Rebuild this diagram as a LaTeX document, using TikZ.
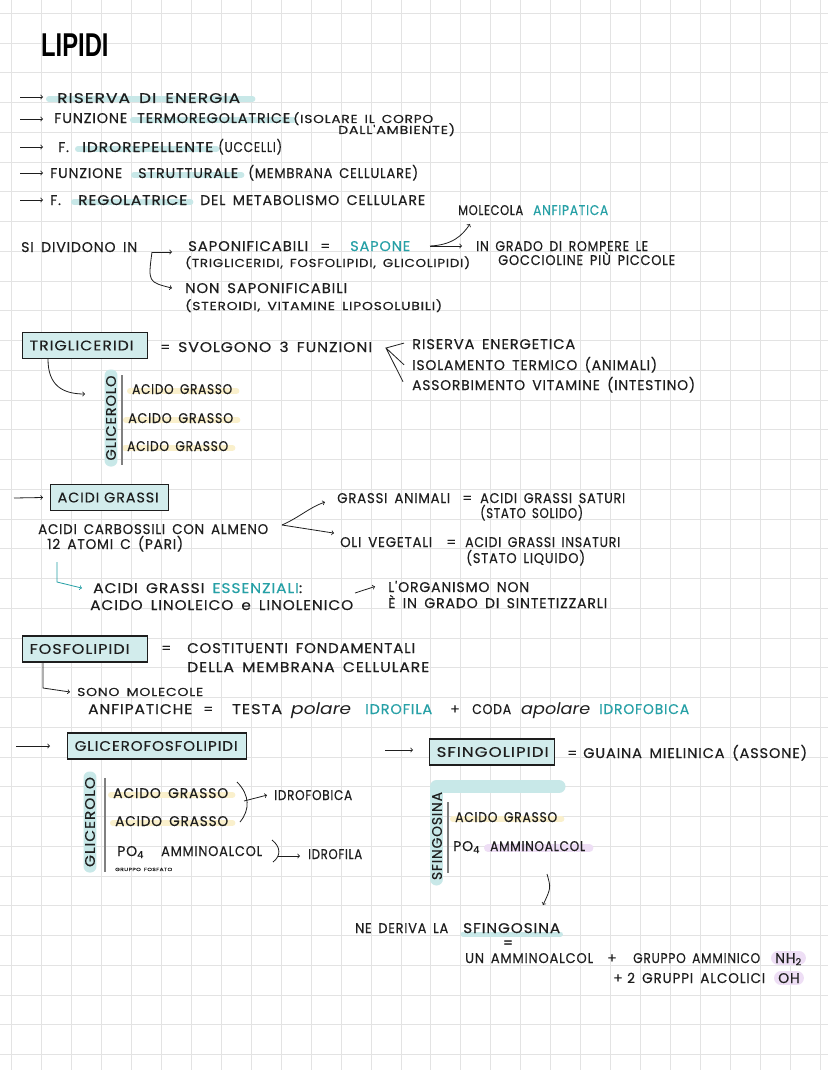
\documentclass[tikz,border=0pt]{standalone}
\usepackage{fontspec}
\setmainfont{Poppins}
\newfontfamily\handfont{Poppins}[LetterSpace=6, WordSpace=1.6, FakeBold=0.4]
\newfontfamily\titlefont{Liberation Sans}
\usetikzlibrary{backgrounds,positioning}

\definecolor{ink}{RGB}{30,30,30}
\definecolor{tealink}{RGB}{38,160,166}
\definecolor{boxfill}{RGB}{210,236,236}
\definecolor{hlcyan}{RGB}{200,232,232}
\definecolor{hlyellow}{RGB}{250,240,204}
\definecolor{hlpurple}{RGB}{238,222,245}
\definecolor{gridc}{RGB}{227,227,227}

\newcommand{\handtxt}{\handfont\fontsize{14}{16}\selectfont}
\newcommand{\handsmall}{\handfont\fontsize{11.5}{13}\selectfont}
\newcommand{\handtiny}{\handfont\fontsize{4.5}{5}\selectfont}
\newcommand{\handcurs}{\itshape\fontsize{16}{17}\selectfont}
% stretch a text to the width it has on the page
\newcommand{\fitw}[2]{\resizebox{#1pt}{\height}{#2}}

\tikzset{
  txt/.style={anchor=base west, inner sep=0pt, font=\handtxt, text=ink},
  smalltxt/.style={txt, font=\handsmall},
  lipbox/.style={draw=ink, fill=boxfill, line width=1.3pt, anchor=west,
    inner xsep=7pt, inner ysep=0pt, minimum height=26pt, text width=#1,
    align=left, font=\handtxt, text=ink},
  pill/.style={fill=hlcyan, rounded corners=6pt, inner xsep=3pt, inner ysep=1.5pt,
    rotate=90, minimum width=#1, font=\handtxt, text=ink},
  arr/.style={->, line width=0.8pt, draw=ink},
  hly/.style={draw=hlyellow, line width=6pt, line cap=round},
  hlc/.style={draw=hlcyan, line width=6pt, line cap=round},
  hlp/.style={draw=hlpurple, line width=8pt, line cap=round},
  gridline/.style={draw=gridc, line width=0.9pt},
}

\begin{document}
\begin{tikzpicture}[x=1pt, y=-1pt]
    \useasboundingbox (0,0) rectangle (828,1070);

    % Paper and grid
    \begin{scope}[on background layer]
        \fill[white] (0,0) rectangle (828,1070);
        \foreach \i in {0,...,27}
            \draw[gridline] ({11.6+29.95*\i},0) -- ({11.6+29.95*\i},1070);
        \foreach \j in {0,...,35}
            \draw[gridline] (0,{13.3+29.75*\j}) -- (828,{13.3+29.75*\j});
    \end{scope}

    % Title
    \node[anchor=base west, inner sep=0pt, text=black,
          font={\titlefont\bfseries\fontsize{33}{33}\selectfont}] (title) at (41,57)
          {\scalebox{0.72}[1]{LIPIDI}};

    % Functions
    \node[txt] (f1) at (57,103) {\fitw{183}{RISERVA DI ENERGIA}};
    \node[txt] (f2a) at (54,123) {\fitw{73}{FUNZIONE}};
    \node[txt] (f2b) at (137,123) {\fitw{153}{TERMOREGOLATRICE}};
    \node[smalltxt] (f2c) at (293,123) {\fitw{140}{(ISOLARE IL CORPO}};
    \node[smalltxt] (f2d) at (338,134) {\fitw{117}{DALL'AMBIENTE)}};
    \node[txt] (f3a) at (58,152) {F.};
    \node[txt] (f3b) at (82,152) {\fitw{131}{IDROREPELLENTE}};
    \node[txt] (f3c) at (218,152) {\fitw{64}{(UCCELLI)}};
    \node[txt] (f4a) at (50,178) {\fitw{72}{FUNZIONE}};
    \node[txt] (f4b) at (138,178) {\fitw{100}{STRUTTURALE}};
    \node[txt] (f4c) at (248,178) {\fitw{170}{(MEMBRANA CELLULARE)}};
    \node[txt] (f5a) at (50,205) {F.};
    \node[txt] (f5b) at (78,205) {\fitw{109}{REGOLATRICE}};
    \node[txt] (f5c) at (200,205) {\fitw{225}{DEL METABOLISMO CELLULARE}};
    \foreach \y [count=\i] in {97,119,147,173,200}
        \draw[arr] (20,\y) coordinate (s\i) -- (43,\y) coordinate (e\i);

    % Classification
    \node[txt] (mol) at (458,215) {\fitw{65}{MOLECOLA}};
    \node[txt, text=tealink] (anf) at (533,215) {\fitw{75}{ANFIPATICA}};
    \node[txt] (div) at (21,252) {\fitw{116}{SI DIVIDONO IN}};
    \node[txt] (sap) at (188,251) {\fitw{120}{SAPONIFICABILI}};
    \node[txt] (eq1) at (320,251) {=};
    \node[txt, text=tealink] (sapone) at (350,251) {\fitw{60}{SAPONE}};
    \node[smalltxt] (sapex) at (185,267) {\fitw{285}{(TRIGLICERIDI, FOSFOLIPIDI, GLICOLIPIDI)}};
    \node[txt] (nonsap) at (185,293) {\fitw{162}{NON SAPONIFICABILI}};
    \node[smalltxt] (nonsapex) at (185,310) {\fitw{257}{(STEROIDI, VITAMINE LIPOSOLUBILI)}};
    \node[txt] (rompe) at (476,251) {\fitw{172}{IN GRADO DI ROMPERE LE}};
    \node[txt] (gocce) at (498,265) {\fitw{177}{GOCCIOLINE PIÙ PICCOLE}};
    \coordinate (split) at (152,252);
    \draw[arr] (split) -- ([xshift=-16pt]sap.west |- split);
    \draw[arr] (split) .. controls (148,282) .. ([xshift=-13pt]nonsap.west);
    \coordinate (sp) at (430,246);
    \draw[arr] (sp) -- ([xshift=-14pt]rompe.west |- sp);
    \draw[arr] (sp) .. controls (452,245) and (462,236) .. ([xshift=12pt,yshift=-9pt]mol.base west);

    % Trigliceridi
    \node[lipbox=111pt] (trig) at (22,345.5) {\fitw{104}{TRIGLICERIDI}};
    \node[txt] (eq2) at (160,352) {=};
    \node[txt] (svol) at (178,352) {\fitw{194}{SVOLGONO 3 FUNZIONI}};
    \node[txt] (ris) at (412,349) {\fitw{163}{RISERVA ENERGETICA}};
    \node[txt] (iso) at (412,370) {\fitw{245}{ISOLAMENTO TERMICO (ANIMALI)}};
    \node[txt] (ass) at (412,390) {\fitw{283}{ASSORBIMENTO VITAMINE (INTESTINO)}};
    \coordinate (fan) at (386,348);
    \draw[line width=0.8pt, ink] ([xshift=-8pt,yshift=1pt]ris.west) -- (fan)
        -- ([xshift=-8pt]iso.west) (fan) -- ([xshift=-9pt,yshift=3pt]ass.west);
    \coordinate (trigend) at (85,394);
    \draw[arr] ([xshift=26pt]trig.south west) .. controls (48,385) and (62,394) .. (trigend);
    \node[pill=97pt] (gli1) at (111,418) {\fitw{85}{GLICEROLO}};
    \draw[gray, line width=1.2pt] (122,375) -- (122,465);
    \node[txt] (ag1) at (132,394) {\fitw{100}{ACIDO GRASSO}};
    \node[txt] (ag2) at (128,423) {\fitw{105}{ACIDO GRASSO}};
    \node[txt] (ag3) at (127,451) {\fitw{101}{ACIDO GRASSO}};

    % Acidi grassi
    \node[lipbox=104pt] (acg) at (50,497.5) {\fitw{101}{ACIDI GRASSI}};
    \coordinate (acgin) at (14,498);
    \draw[arr] (acgin) -- ([xshift=-7pt]acg.west);
    \node[txt] (carb) at (38,534) {\fitw{230}{ACIDI CARBOSSILI CON ALMENO}};
    \node[txt] (atomi) at (47,549) {\fitw{136}{12 ATOMI C (PARI)}};
    \node[txt] (ani) at (337,503) {\fitw{113}{GRASSI ANIMALI}};
    \node[txt] (eq3) at (462,503) {=};
    \node[txt] (sat) at (480,503) {\fitw{145}{ACIDI GRASSI SATURI}};
    \node[txt] (solido) at (480,518) {\fitw{103}{(STATO SOLIDO)}};
    \node[txt] (oli) at (340,547) {\fitw{92}{OLI VEGETALI}};
    \node[txt] (eq4) at (446,547) {=};
    \node[txt] (insat) at (465,547) {\fitw{155}{ACIDI GRASSI INSATURI}};
    \node[txt] (liq) at (466,563) {\fitw{119}{(STATO LIQUIDO)}};
    \coordinate (fork) at (282,525);
    \draw[arr] (fork) .. controls (300,517) and (310,507) .. ([xshift=-12pt,yshift=-4pt]ani.west);
    \draw[arr] (fork) -- ([xshift=-6pt,yshift=9pt]oli.west);
    \node[txt] (ess) at (93,593) {\fitw{209}{ACIDI GRASSI \textcolor{tealink}{ESSENZIALI}:}};
    \node[txt] (lino) at (90,610) {\fitw{263}{ACIDO LINOLEICO e LINOLENICO}};
    \coordinate (ess0) at (57,562);
    \draw[arr, draw=tealink] (ess0) -- (57,582) -- ([xshift=-11pt]ess.west);
    \node[txt] (org) at (388,592) {\fitw{141}{L'ORGANISMO NON}};
    \node[txt] (sint) at (388,608) {\fitw{219}{È IN GRADO DI SINTETIZZARLI}};
    \coordinate (linarr) at (355,593);
    \draw[arr] (linarr) -- ([xshift=-13pt]org.west);

    % Fosfolipidi
    \node[lipbox=111pt] (fosf) at (22,649) {\fitw{100}{FOSFOLIPIDI}};
    \node[txt] (eq5) at (161,653) {=};
    \node[txt] (cost) at (187,653) {\fitw{228}{COSTITUENTI FONDAMENTALI}};
    \node[txt] (memb) at (187,672) {\fitw{242}{DELLA MEMBRANA CELLULARE}};
    \node[smalltxt] (sono) at (77,696) {\fitw{126}{SONO MOLECOLE}};
    \draw[arr] ([xshift=21pt]fosf.south west) -- (43,688) -- ([xshift=-7pt]sono.west);
    \node[txt] (anfi) at (88,714) {\fitw{104}{ANFIPATICHE}};
    \node[txt] (eq6) at (203,714) {=};
    \node[txt] (testa) at (232,714) {\fitw{50}{TESTA}};
    \node[txt, font=\handcurs] (pol) at (291,714) {\fitw{60}{polare}};
    \node[txt, text=tealink] (idrofila) at (365,714) {\fitw{67}{IDROFILA}};
    \node[txt] (plus1) at (450,714) {+};
    \node[txt] (coda) at (472,714) {\fitw{39}{CODA}};
    \node[txt, font=\handcurs] (apol) at (521,714) {\fitw{69}{apolare}};
    \node[txt, text=tealink] (idrofob) at (599,714) {\fitw{90}{IDROFOBICA}};

    % Glicerofosfolipidi
    \node[lipbox=165pt] (glic) at (67,746) {\fitw{163}{GLICEROFOSFOLIPIDI}};
    \coordinate (glicin) at (16,746);
    \draw[arr] (glicin) -- ([xshift=-17pt]glic.west);
    \node[pill=101pt] (gli2) at (90,822) {\fitw{90}{GLICEROLO}};
    \draw[gray, line width=1.2pt] (105,778) -- (105,872);
    \node[txt] (ag4) at (113,798) {\fitw{115}{ACIDO GRASSO}};
    \node[txt] (ag5) at (115,826) {\fitw{113}{ACIDO GRASSO}};
    \draw[line width=0.8pt, ink] (237,782) .. controls (250,795) and (250,810) .. (240,822);
    \node[txt] (fob) at (274,800) {\fitw{78}{IDROFOBICA}};
    \coordinate (fobin) at (244,801);
    \draw[arr] (fobin) -- ([xshift=-7pt]fob.west);
    \node[txt] (po1) at (117,856) {PO\textsubscript{4}};
    \node[txt] (amm1) at (161,856) {\fitw{101}{AMMINOALCOL}};
    \draw[line width=0.8pt, ink] (272,840) .. controls (281,847) and (281,856) .. (273,862);
    \node[txt] (fila) at (308,859) {\fitw{54}{IDROFILA}};
    \coordinate (filain) at (278,856);
    \draw[arr] (filain) -- ([xshift=-8pt]fila.west |- filain);
    \node[txt, font=\handtiny] (grup) at (115,871) {\fitw{57}{GRUPPO FOSFATO}};

    % Sfingolipidi
    \node[lipbox=111pt] (sfin) at (429,752) {\fitw{112}{SFINGOLIPIDI}};
    \coordinate (sfinin) at (385,750);
    \draw[arr] (sfinin) -- ([xshift=-16pt]sfin.west |- sfinin);
    \node[txt] (eq7) at (567,758) {=};
    \node[txt] (guaina) at (583,758) {\fitw{224}{GUAINA MIELINICA (ASSONE)}};
    \draw[hlc, line width=13pt, line join=round] (436.5,879) -- (436.5,786.5) -- (559,786.5);
    \node[txt, anchor=center, rotate=90] (sfgsv) at (437,836) {\fitw{88}{SFINGOSINA}};
    \draw[gray, line width=1.2pt] (448,802) -- (448,873);
    \node[txt] (ag6) at (455,822) {\fitw{102}{ACIDO GRASSO}};
    \node[txt] (po2) at (453,851) {PO\textsubscript{4}};
    \node[txt] (amm2) at (490,851) {\fitw{95}{AMMINOALCOL}};
    \coordinate (sa) at (547,874);
    \coordinate (sb) at (543,905);
    \draw[arr] (sa) .. controls (551,888) .. (sb);
    \node[txt] (ne) at (355,933) {\fitw{93}{NE DERIVA LA}};
    \node[txt] (sfgs) at (463,933) {\fitw{97}{SFINGOSINA}};
    \node[txt, anchor=center] (eq8) at (508,944) {=};
    \node[txt] (un) at (465,963) {\fitw{128}{UN AMMINOALCOL}};
    \node[txt] (plus2) at (607,963) {+};
    \node[txt] (ammin) at (633,963) {\fitw{127}{GRUPPO AMMINICO}};
    \node[txt] (nh) at (775,963) {NH\textsubscript{2}};
    \node[txt] (plus3) at (613,983) {+};
    \node[txt] (alc) at (627,983) {\fitw{138}{2 GRUPPI ALCOLICI}};
    \node[txt] (oh) at (778,983) {OH};

    % Highlights
    \begin{scope}[on background layer]
        \draw[hlc] ([xshift=-8pt,yshift=4pt]f1.base west) -- ([xshift=12pt,yshift=4pt]f1.base east);
        \foreach \n in {f2b,f3b,f4b,f5b}
            \draw[hlc] ([xshift=-4pt,yshift=3pt]\n.base west) -- ([xshift=3pt,yshift=3pt]\n.base east);
        \foreach \n in {ag1,ag2,ag3,ag4,ag5,ag6}
            \draw[hly] ([xshift=-2pt,yshift=3pt]\n.base west) -- ([xshift=4pt,yshift=3pt]\n.base east);
        \draw[hlp] ([xshift=-2pt,yshift=3pt]amm2.base west) -- ([xshift=4pt,yshift=3pt]amm2.base east);
        \draw[hlc, line width=5pt] ([yshift=-1pt]sfgs.base west) -- ([yshift=-1pt]sfgs.base east);
        \draw[hlp, line width=14pt] ([xshift=3pt,yshift=5pt]nh.base west) -- ([xshift=-3pt,yshift=5pt]nh.base east);
        \draw[hlp, line width=14pt] ([xshift=3pt,yshift=5pt]oh.base west) -- ([xshift=-3pt,yshift=5pt]oh.base east);
    \end{scope}
\end{tikzpicture}
\end{document}
